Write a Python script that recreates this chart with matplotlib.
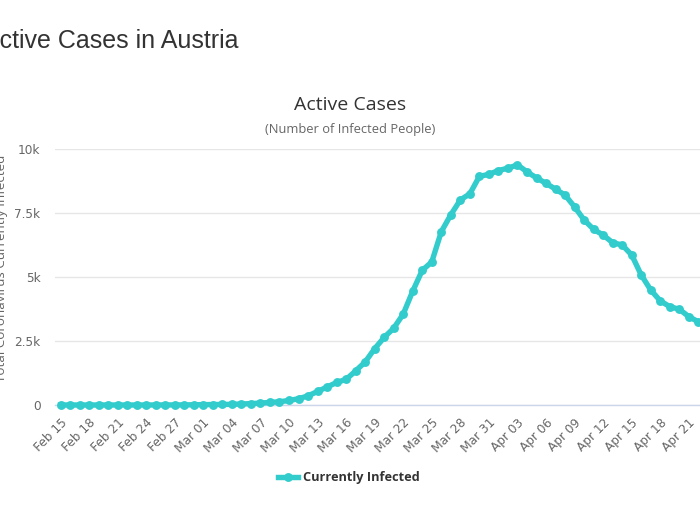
import matplotlib
matplotlib.use("Agg")
import matplotlib.pyplot as plt
import numpy as np
import pandas as pd

# ----- data ----------------------------------------------------------
START_DATE = "2020-02-15"
LAST_TICK = "2020-04-21"
ACTIVE = [
    0, 0, 0, 0, 0, 0, 0, 0, 0, 0,            # Feb 15 - Feb 24
    2, 2, 3, 3, 9,                           # Feb 25 - Feb 29
    14, 18, 21, 27, 39, 53, 75, 100, 126, 176,
    245, 355, 530, 700, 880, 1000, 1330, 1680, 2200, 2640,
    3000, 3550, 4450, 5260, 5590, 6770, 7430, 8010, 8250, 8930,
    9010,                                    # Mar 31
    9160, 9250, 9380, 9110, 8870, 8660, 8430, 8200, 7740, 7230,
    6860, 6640, 6340, 6250, 5860, 5080, 4490, 4070, 3840, 3740,
    3450, 3250,                              # Apr 21 - Apr 22
]
Y_TICKS = [0, 2500, 5000, 7500, 10000]
Y_TICK_LABELS = ["0", "2.5k", "5k", "7.5k", "10k"]

SERIES_NAME = "Currently Infected"
PAGE_TITLE = "Active Cases in Austria"
CHART_TITLE = "Active Cases"
CHART_SUBTITLE = "(Number of Infected People)"
Y_LABEL = "Total Coronavirus Currently Infected"

LINE_COLOR = "#33cccc"
TEXT_DARK = "#333333"
TEXT_GREY = "#666666"

dates = pd.date_range(START_DATE, periods=len(ACTIVE), freq="D")
tick_dates = pd.date_range(START_DATE, LAST_TICK, freq="3D")

# ----- figure ----------------------------------------------------------
W, H = 700, 525
fig = plt.figure(figsize=(W / 100, H / 100), dpi=100)
fig.patch.set_facecolor("white")

# plot area runs off the right edge, as in the cropped screenshot
ax = fig.add_axes([55 / W, (H - 405) / H, 1.0, 256 / H])
px_per_day = 9.52
x0 = dates[0] - pd.Timedelta(days=5.5 / px_per_day)
x1 = x0 + pd.Timedelta(days=W / px_per_day)
ax.set_xlim(x0, x1)
ax.set_ylim(0, 10000)

ax.plot(dates, ACTIVE, color=LINE_COLOR, linewidth=3.9, marker="o",
        markersize=6.4, markeredgewidth=0, clip_on=False, zorder=3,
        solid_joinstyle="round", label=SERIES_NAME)

ax.set_yticks(Y_TICKS)
ax.set_yticklabels(Y_TICK_LABELS)
ax.set_xticks(tick_dates)
ax.set_xticklabels([d.strftime("%b %d") for d in tick_dates],
                   rotation=45, ha="right", rotation_mode="anchor")
ax.tick_params(axis="both", length=0, labelsize=8.7, labelcolor=TEXT_GREY)
ax.tick_params(axis="y", pad=10.5)
ax.tick_params(axis="x", pad=8)

ax.grid(True, axis="y", color="#e6e6e6", linewidth=1)
ax.set_axisbelow(True)
for side in ("top", "right", "left"):
    ax.spines[side].set_visible(False)
ax.spines["bottom"].set_color("#ccd6eb")
ax.spines["bottom"].set_linewidth(1)

# ----- texts -----------------------------------------------------------
fig.text(238 / W, 1 - 48 / H, PAGE_TITLE, ha="right", va="baseline",
         fontsize=18, color=TEXT_DARK, family="Liberation Sans")
fig.text(350 / W, 1 - 110 / H, CHART_TITLE, ha="center", va="baseline",
         fontsize=14, color=TEXT_DARK, family="Open Sans")
fig.text(350 / W, 1 - 133 / H, CHART_SUBTITLE, ha="center", va="baseline",
         fontsize=9.3, color=TEXT_GREY, family="Open Sans")
fig.text(2 / W, 1 - 268 / H, Y_LABEL, ha="center", va="center",
         rotation=90, fontsize=9.6, color=TEXT_GREY, family="Open Sans")

leg = fig.legend(loc="center", bbox_to_anchor=(349 / W, 1 - 478 / H),
                 frameon=False, handlelength=1.5, handletextpad=0.4,
                 prop={"family": "Open Sans", "weight": "bold", "size": 9.2})
for t in leg.get_texts():
    t.set_color(TEXT_DARK)

fig.savefig("out.png", dpi=100, facecolor="white")
